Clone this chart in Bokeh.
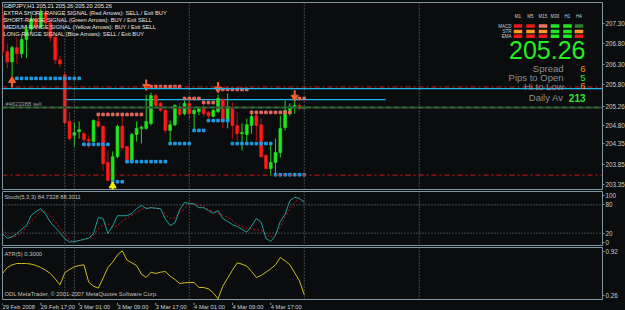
import numpy as np
from bokeh.plotting import figure
from bokeh.layouts import column
from bokeh.core.properties import value
from bokeh.models import Range1d, FixedTicker, Label, Span, NumeralTickFormatter, ColumnDataSource
from bokeh.embed import file_html
from bokeh.resources import INLINE

# ---------------- data ----------------
header_text = "GBPJPY,H1  205.21 205.26 205.20 205.26"
signal_texts = [
    "EXTRA SHORT-RANGE SIGNAL (Red Arrows): SELL / Exit BUY",
    "SHORT-RANGE SIGNAL (Green Arrows): BUY / Exit SELL",
    "MEDIUM-RANGE SIGNAL (Yellow Arrows): BUY / Exit SELL",
    "LONG-RANGE SIGNAL (Blue Arrows): SELL / Exit BUY",
]
bars = list(range(64))
opens = [207.50, 206.60, 206.35, 206.70, 206.55, 206.90, 207.15, 207.40, 207.20, 207.55,
         207.30, 206.95, 206.40, 206.04, 204.90, 204.56, 204.65, 204.60, 204.46, 204.41,
         204.90, 204.78, 203.90, 203.46, 204.04, 204.78, 204.29, 203.95, 204.58, 204.73,
         204.73, 204.85, 205.53, 205.34, 205.17, 204.68, 204.82, 205.21, 205.09, 205.34,
         205.09, 205.14, 205.24, 205.12, 205.02, 205.14, 205.43, 204.90, 205.24, 204.80,
         204.60, 204.58, 204.80, 205.04, 204.82, 204.07, 203.75, 203.90, 204.14, 204.75,
         205.17, 205.26, 205.29, 205.21]
highs = [207.70, 206.80, 206.75, 206.95, 207.00, 207.25, 207.50, 207.60, 207.65, 207.70,
         207.40, 207.05, 206.50, 206.10, 205.12, 204.87, 204.90, 204.65, 204.56, 204.95,
         205.04, 204.80, 204.19, 204.17, 204.82, 205.04, 204.30, 204.62, 204.90, 204.80,
         205.55, 205.60, 205.58, 205.38, 205.20, 204.92, 205.32, 205.36, 205.40, 205.42,
         205.22, 205.26, 205.30, 205.15, 205.20, 205.55, 205.48, 205.58, 205.36, 205.12,
         204.85, 204.97, 205.17, 205.09, 204.97, 204.10, 204.36, 204.48, 205.04, 205.41,
         205.34, 205.40, 205.34, 205.26]
lows = [206.50, 206.20, 206.00, 206.30, 206.45, 206.45, 207.05, 207.10, 207.15, 207.20,
        206.85, 206.30, 206.22, 204.82, 204.43, 204.29, 204.48, 204.40, 204.26, 204.40,
        204.75, 203.70, 203.44, 203.39, 204.00, 204.19, 203.92, 203.93, 204.41, 204.36,
        204.70, 204.80, 205.24, 205.12, 204.60, 204.36, 204.78, 205.02, 205.05, 204.95,
        204.68, 205.05, 205.02, 204.98, 205.00, 205.10, 204.73, 204.73, 204.48, 204.43,
        204.19, 204.36, 204.60, 204.43, 204.02, 203.72, 203.58, 203.58, 204.02, 204.68,
        205.04, 205.09, 205.17, 205.20]
closes = [206.60, 206.35, 206.70, 206.55, 206.90, 207.15, 207.40, 207.20, 207.55, 207.30,
          206.95, 206.40, 206.30, 204.87, 204.48, 204.63, 204.70, 204.46, 204.42, 204.92,
          204.78, 203.87, 203.46, 204.04, 204.78, 204.26, 203.95, 204.58, 204.73, 204.76,
          204.90, 205.53, 205.29, 205.17, 204.68, 204.82, 205.29, 205.07, 205.34, 205.09,
          205.17, 205.21, 205.09, 205.04, 205.17, 205.46, 204.92, 205.26, 204.80, 204.60,
          204.63, 204.82, 205.02, 204.80, 204.04, 203.75, 203.90, 204.14, 204.73, 205.17,
          205.26, 205.29, 205.21, 205.26]
stoch_main = [19, 9, 12, 19, 28, 36, 58, 66, 72, 60, 43, 32, 21, 8, 1, 2, 4, 7, 9, 19,
              53, 51, 19, 35, 57, 57, 57, 62, 72, 79, 72, 74, 73, 72, 50, 36, 42, 70, 85, 83,
              82, 74, 74, 68, 62, 68, 51, 45, 38, 34, 28, 22, 35, 51, 43, 9, 2, 15, 45, 60,
              89, 96, 94, 85]
stoch_signal = [30, 15, 11, 14, 21, 32, 45, 55, 66, 65, 55, 45, 30, 18, 5, 2, 4, 6, 9, 15,
                30, 38, 40, 32, 36, 45, 52, 58, 64, 70, 74, 74, 73, 70, 60, 51, 52, 64, 72, 82,
                83, 80, 77, 70, 66, 62, 58, 53, 47, 38, 34, 30, 29, 27, 26, 18, 11, 18, 32, 55,
                72, 86, 93, 88]
atr_values = [0.59, 0.68, 0.72, 0.74, 0.74, 0.74, 0.73, 0.71, 0.68, 0.64, 0.59, 0.51, 0.42,
              0.60, 0.65, 0.69, 0.71, 0.72, 0.46, 0.40, 0.37, 0.52, 0.68, 0.76, 0.87, 0.93,
              0.79, 0.75, 0.71, 0.58, 0.53, 0.61, 0.59, 0.61, 0.62, 0.55, 0.50, 0.44, 0.45,
              0.455, 0.455, 0.38, 0.38, 0.36, 0.30, 0.21, 0.40, 0.52, 0.64, 0.75, 0.73, 0.70,
              0.62, 0.53, 0.56, 0.61, 0.66, 0.72, 0.83, 0.78, 0.72, 0.60, 0.48, 0.27]
time_tick_bars = [0, 8, 16, 24, 32, 40, 48, 56]
time_tick_labels = ["29 Feb 2008", "29 Feb 17:00", "3 Mar 01:00", "3 Mar 09:00",
                    "3 Mar 17:00", "4 Mar 01:00", "4 Mar 09:00", "4 Mar 17:00"]
separator_bars = [13, 15, 39, 63, 87]
price_ticks = [203.35, 203.85, 204.35, 204.80, 205.80, 206.30, 206.80, 207.30]
stoch_ticks = [0, 20, 80, 100]
stoch_levels = [20, 80]
atr_ticks = [0.26, 0.92]
current_price = 205.26

blue_start = [3, 17, 23, 26, 35, 40, 43, 48, 57]
blue_end = [16, 22, 25, 34, 39, 42, 47, 56, 63]
blue_level = [205.95, 204.34, 203.43, 203.92, 204.36, 204.68, 204.92, 204.36, 203.60]
salmon_start = [20, 31, 38, 42, 45, 52, 62]
salmon_end = [29, 37, 41, 44, 51, 60, 63]
salmon_level = [205.07, 205.75, 205.46, 205.36, 205.68, 205.12, 205.46]

orange_up_bars, orange_up_tips = [2], [205.97]
orange_down_bars, orange_down_tips = [30, 45, 61], [205.68, 205.62, 205.42]
yellow_up_bars, yellow_up_tips = [23], [203.40]

cyan_full_level = 205.70
cyan_short_level, cyan_short_from, cyan_short_to = 205.43, 13, 80
red_dashdot_levels = [205.74, 203.59]
order_level = 205.24
order_label = "#4623388 sell"

timeframes = ["M1", "M5", "M15", "M30", "H1", "H4"]
panel_rows = ["MACD", "STR", "EMA"]
macd_state = ["sell", "sell", "weak_sell", "buy", "buy", "weak_buy"]
str_state = ["neutral", "neutral", "neutral", "buy", "buy", "neutral"]
ema_state = ["sell", "sell", "sell", "buy", "buy", "sell"]
info_names = ["Spread", "Pips to Open", "Hi to Low", "Daily Av"]
info_values = ["6", "5", "6", "213"]
info_colors = ["#ff8c1a", "#33e633", "#ff8c1a", "#33e633"]
stoch_label = "Stoch(5,3,3) 84.7328 88.3011"
atr_label = "ATR(5) 0.3000"
copyright_text = "ODL MetaTrader, \u00a9 2001-2007 MetaQuotes Software Corp."

# ---------------- layout / style ----------------
BG = "#0a0c0d"
FRAME = "#7f95a1"
GRID = "#7a8288"
FONT = "Liberation Sans"
PXB = 4.79
FW = 600
XR = (0, FW / PXB)
MAIN_TOP, MAIN_H, MAIN_Y = 2, 187, (203.24, 207.80)
ST_TOP, ST_H, ST_Y = 191, 55, (-8.5, 108.5)
AT_TOP, AT_H, AT_Y = 247, 52, (0.20, 0.98)


def mx(px):
    return (px - 2) / PXB


def my(py):
    return MAIN_Y[1] - (py - MAIN_TOP) * (MAIN_Y[1] - MAIN_Y[0]) / MAIN_H


def sy(py):
    return ST_Y[1] - (py - ST_TOP) * (ST_Y[1] - ST_Y[0]) / ST_H


def ay(py):
    return AT_Y[1] - (py - AT_TOP) * (AT_Y[1] - AT_Y[0]) / AT_H


def make_fig(fh, yr, top, bottom, yaxis=True):
    p = figure(frame_width=FW, frame_height=fh, x_range=Range1d(*XR), y_range=Range1d(*yr),
               y_axis_location="right" if yaxis else None, x_axis_location=None,
               toolbar_location=None, output_backend="svg", min_border_left=2,
               min_border_right=23, min_border_top=top, min_border_bottom=bottom,
               background_fill_color=BG, border_fill_color=BG,
               outline_line_color=FRAME if yaxis else None, outline_line_width=1, tools="")
    p.grid.visible = False
    if not yaxis:
        return p
    ax = p.yaxis[0]
    ax.axis_line_color = FRAME
    ax.major_tick_line_color = FRAME
    ax.major_tick_out = 2
    ax.major_tick_in = 0
    ax.minor_tick_out = 0
    ax.minor_tick_in = 0
    ax.major_label_standoff = 1
    ax.major_label_text_font = FONT
    ax.major_label_text_font_size = "6.3px"
    ax.major_label_text_color = "#c8cdd0"
    for b in separator_bars:
        p.add_layout(Span(location=b, dimension="height", line_color=GRID,
                          line_dash="1 2", line_width=1))
    return p


def add_text(p, x, y, text, size, color, align="left", bold=False):
    p.add_layout(Label(x=x, y=y, text=text, text_font=FONT, text_font_size=size,
                       text_color=color, text_align=align, text_baseline="middle",
                       text_font_style="bold" if bold else "normal"))


# ---------------- main pane ----------------
pm = make_fig(MAIN_H, MAIN_Y, 2, 1)
pm.yaxis[0].ticker = FixedTicker(ticks=sorted(price_ticks + [current_price]))
pm.yaxis[0].formatter = NumeralTickFormatter(format="0.00")

for lvl in red_dashdot_levels:
    pm.add_layout(Span(location=lvl, dimension="width", line_color="#d01818",
                       line_dash="5 3 2 3", line_width=1))
pm.add_layout(Span(location=cyan_full_level, dimension="width", line_color="#1fb6ec", line_width=1.3))
pm.segment(x0=[cyan_short_from], y0=[cyan_short_level], x1=[cyan_short_to], y1=[cyan_short_level],
           line_color="#1fb6ec", line_width=1.3)
pm.add_layout(Span(location=order_level, dimension="width", line_color="#3c3f40", line_width=2))
pm.add_layout(Span(location=order_level, dimension="width", line_color="#1f8a1f",
                   line_dash="4 4", line_width=1.5))

o = np.array(opens)
c = np.array(closes)
up = c >= o
src = ColumnDataSource(dict(
    x=bars, top=np.maximum(o, c), bottom=np.minimum(o, c), high=highs, low=lows,
    color=np.where(up, "#1ee61e", "#ff1a1a"), wcolor=np.where(up, "#1ed21e", "#b81010")))
pm.segment(x0="x", y0="low", x1="x", y1="high", line_color="wcolor", line_width=1, source=src)
pm.vbar(x="x", width=0.6, top="top", bottom="bottom", fill_color="color",
        line_color="color", line_width=0.6, source=src)


def level_points(starts, ends, levels):
    xs, ys = [], []
    for s, e, l in zip(starts, ends, levels):
        for b in range(s, e + 1):
            xs.append(b)
            ys.append(l)
    return xs, ys


bx, by = level_points(blue_start, blue_end, blue_level)
pm.scatter(bx, by, marker="square", size=2.6, fill_color="#1e9ce6", line_color="#1e9ce6")
sx_, sy_ = level_points(salmon_start, salmon_end, salmon_level)
pm.scatter(sx_, sy_, marker="square", size=2.6, fill_color="#e86a5e", line_color="#e86a5e")


def draw_arrows(p, xb, tips, upward, color):
    off, stem = 0.07, 0.17
    if upward:
        head = [t - off for t in tips]
        tail = [h - stem for h in head]
        mk = "triangle"
    else:
        head = [t + off for t in tips]
        tail = [h + stem for h in head]
        mk = "inverted_triangle"
    p.segment(x0=xb, y0=head, x1=xb, y1=tail, line_color=color, line_width=2)
    p.scatter(xb, head, marker=mk, size=7, fill_color=color, line_color=color)


draw_arrows(pm, orange_up_bars, orange_up_tips, True, "#f2622a")
draw_arrows(pm, orange_down_bars, orange_down_tips, False, "#f2622a")
draw_arrows(pm, yellow_up_bars, yellow_up_tips, True, "#f5f000")

# texts top-left
add_text(pm, mx(3), my(5.8), header_text, "5.8px", "#e6e6e6")
for i, t in enumerate(signal_texts):
    add_text(pm, mx(3), my(12.5 + 6.95 * i), t, "5.7px", "#e6e6e6")
add_text(pm, mx(5), my(103), order_label, "5.8px", "#9c9c9c")

# top-right panel
state_colors = {"sell": "#f01818", "buy": "#22e822", "weak_sell": "#f07464",
                "weak_buy": "#2d7d2d", "neutral": "#ff9a1e"}
col_px = [517.5, 530, 542.5, 554.5, 567, 578.5]
row_py = [25.5, 31, 35.7]
for r, states in enumerate([macd_state, str_state, ema_state]):
    pm.rect(x=[mx(cx) for cx in col_px], y=[my(row_py[r])] * len(col_px),
            width=8.5 / PXB, height=3.4 * (MAIN_Y[1] - MAIN_Y[0]) / MAIN_H,
            fill_color=[state_colors[s] for s in states], line_color=None)
    add_text(pm, mx(511), my(row_py[r]), panel_rows[r], "4.5px", "#d0d0d0", align="right")
for cx, tf in zip(col_px, timeframes):
    add_text(pm, mx(cx), my(16), tf, "4.5px", "#d0d0d0", align="center")
add_text(pm, mx(585), my(49), f"{current_price:.2f}", "25px", "#22ee22", align="right")
info_py = [68, 77, 85.5, 97]
for name, val, col, py in zip(info_names, info_values, info_colors, info_py):
    add_text(pm, mx(563), my(py), name, "9.5px", "#8e8e8e", align="right")
    add_text(pm, mx(585), my(py), val, "10px" if len(val) > 1 else "9.5px", col,
             align="right", bold=len(val) > 1)

# ---------------- stochastic pane ----------------
ps = make_fig(ST_H, ST_Y, 1, 0)
ps.yaxis[0].ticker = FixedTicker(ticks=stoch_ticks)
ps.yaxis[0].formatter = NumeralTickFormatter(format="0")
for lvl in stoch_levels:
    ps.add_layout(Span(location=lvl, dimension="width", line_color=GRID, line_dash="1 2", line_width=1))
ps.line(bars, stoch_signal, line_color="#c41818", line_dash="2 2", line_width=1)
ps.line(bars, stoch_main, line_color="#1f9e9e", line_width=1)
add_text(ps, mx(4), sy(196.5), stoch_label, "5.8px", "#c0c0c0")

# ---------------- ATR pane ----------------
pa = make_fig(AT_H, AT_Y, 1, 1)
pa.yaxis[0].ticker = FixedTicker(ticks=atr_ticks)
pa.yaxis[0].formatter = NumeralTickFormatter(format="0.00")
pa.line(bars, atr_values, line_color="#cbbd1f", line_width=1)
add_text(pa, mx(4), ay(253), atr_label, "5.8px", "#c0c0c0")
add_text(pa, mx(4), ay(293), copyright_text, "5.8px", "#c0c0c0")

# ---------------- time axis strip ----------------
pt = make_fig(10, (0, 10), 0, 0, yaxis=False)
n = len(time_tick_bars)
pt.segment(x0=time_tick_bars, y0=[10] * n, x1=time_tick_bars, y1=[7.5] * n,
           line_color=FRAME, line_width=1)
pt.text(x=time_tick_bars, y=[5.2] * n, text=time_tick_labels, text_font=value(FONT),
        text_font_size=value("5.8px"), text_color="#c8cdd0", text_align="left",
        text_baseline="middle")

layout = column(pm, ps, pa, pt, spacing=0, styles={"background-color": BG})
open("out.html", "w").write(file_html(layout, INLINE, title="GBPJPY H1"))
